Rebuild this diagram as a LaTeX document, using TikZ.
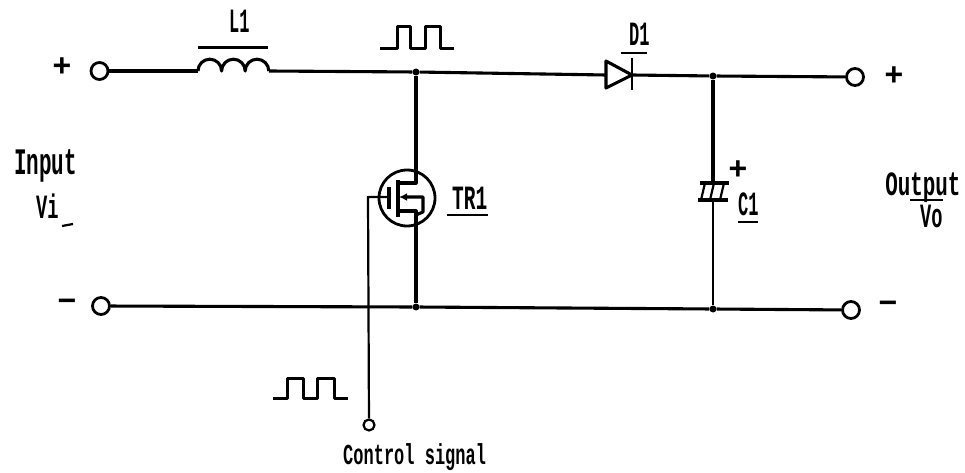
\documentclass[tikz,border=0pt]{standalone}
\usepackage{fontspec}
\setmainfont{Liberation Mono}
\usetikzlibrary{arrows.meta}
\tikzset{
  wire/.style={line width=3.1pt,line join=round},
  thin wire/.style={line width=2.2pt,line join=round},
  rulebar/.style={line width=2.2pt},
  term/.style={circle,draw,line width=2.8pt,minimum size=17pt,inner sep=0pt,fill=white},
  dot/.style={circle,fill=black,minimum size=7pt,inner sep=0pt},
  lab/.style={font=\fontsize{17}{19}\selectfont\bfseries,inner sep=0pt,anchor=base west,transform shape,xscale=1,yscale=2},
  sym/.style={font=\fontsize{32}{32}\selectfont\bfseries,inner sep=0pt},
  pulse/.style={line width=3pt,line join=round}
}
\begin{document}
\begin{tikzpicture}[x=1pt,y=-1pt]
\useasboundingbox (0,0) rectangle (965,473);
% terminals and junctions
\node[term] (inP) at (99.5,71) {};
\node[term] (inN) at (101,306) {};
\node[term] (outP) at (855,77) {};
\node[term] (outN) at (851,310) {};
\node[term,minimum size=11pt,line width=2.2pt] (ctl) at (369,425) {};
\node[dot] (j1) at (416,72) {};
\node[dot] (j2) at (713,76) {};
\node[dot] (j3) at (416,307) {};
\node[dot] (j4) at (713,309) {};
\coordinate (Lin) at (198,71);
\coordinate (Lout) at (269,71);
\coordinate (Da) at (606,75);
\coordinate (Dk) at (632,75);
\coordinate (Ctop) at (713,183);
\coordinate (Cbot) at (713,200);
% main wires
\draw[wire] (inP) -- (Lin);
\draw[wire] (Lout) -- (j1) -- (Da);
\draw[wire] (Dk) -- (j2) -- (outP);
\draw[wire] (inN) -- (j3) -- (j4) -- (outN);
\draw[wire] (j2) -- (Ctop);
\draw[thin wire] (Cbot) -- (j4);
% inductor
\draw[wire] (Lin) arc[start angle=180,end angle=360,radius=11.8] arc[start angle=180,end angle=360,radius=11.8] arc[start angle=180,end angle=360,radius=11.8];
\draw[line width=3pt] (198,48) -- (268,48);
% diode
\draw[wire] (606,61) -- (Dk) -- (606,88) -- cycle;
\draw[thin wire] (632,58) -- (632,90);
% capacitor
\draw[line width=3.2pt] (700,183) -- (729,183);
\draw[line width=3.2pt] (698,200) -- (728,200);
\draw[thin wire] (705,183) -- (701,200) (714,183) -- (710,200) (724,183) -- (720,200);
% MOSFET
\node[circle,draw,line width=2.8pt,minimum size=56pt,inner sep=0pt] (tr) at (407,198) {};
\coordinate (so) at (416,237);
\coordinate (gw) at (368,197);
\draw[wire] (j1) -- (416,183) -- (398,183);
\draw[line width=3.2pt] (398,180) -- (398,217);
\draw[wire] (389,187) -- (389,209);
\draw[thin wire] (ctl) -- (gw) -- (389,197);
\draw[wire] (398,211) -- (416,211) -- (so) -- (j3);
\draw[wire,{Latex[length=8pt,width=8pt]}-] (399,197) -- (423,197) -- (423,212) -- (416,215);
% pulses
\draw[pulse] (380,49) -- (397,49) -- (397,27) -- (410,27) -- (410,49) -- (425,49) -- (425,27) -- (440,27) -- (440,49) -- (454,49);
\draw[pulse] (273,398) -- (287,398) -- (287,378) -- (303,378) -- (303,398) -- (317,398) -- (317,378) -- (334,378) -- (334,398) -- (348,398);
% labels
\node[lab] (l1) at (229,33) {L1};
\node[lab] (d1) at (629,46) {D1};
\draw[rulebar] (621,53) -- (647,53);
\node[lab,xscale=1.15] (tr1) at (452,209) {TR1};
\draw[rulebar] (447,215) -- (488,215);
\node[lab] (c1) at (738,215) {C1};
\draw[rulebar] (738,222) -- (758,222);
\node[sym] (cp) at (738,170) {+};
\node[sym] (sp1) at (62,67) {+};
\node[sym] (sm1) at (67,305) {−};
\node[sym] (sp2) at (894,76) {+};
\node[sym] (sm2) at (888,307) {−};
\node[lab,xscale=1.23,yscale=1.1] (inp) at (14,175) {Input};
\node[lab,xscale=1.1] (vi) at (36,218) {Vi};
\draw[rulebar] (62,226) -- (73,224);
\node[lab,xscale=1.23] (op) at (885,195) {Output};
\draw[rulebar] (910,200) -- (943,200);
\node[lab,xscale=1.1] (vo) at (920,227) {Vo};
\node[lab,yscale=0.85] (cs) at (343,464) {Control signal};
\end{tikzpicture}
\end{document}
